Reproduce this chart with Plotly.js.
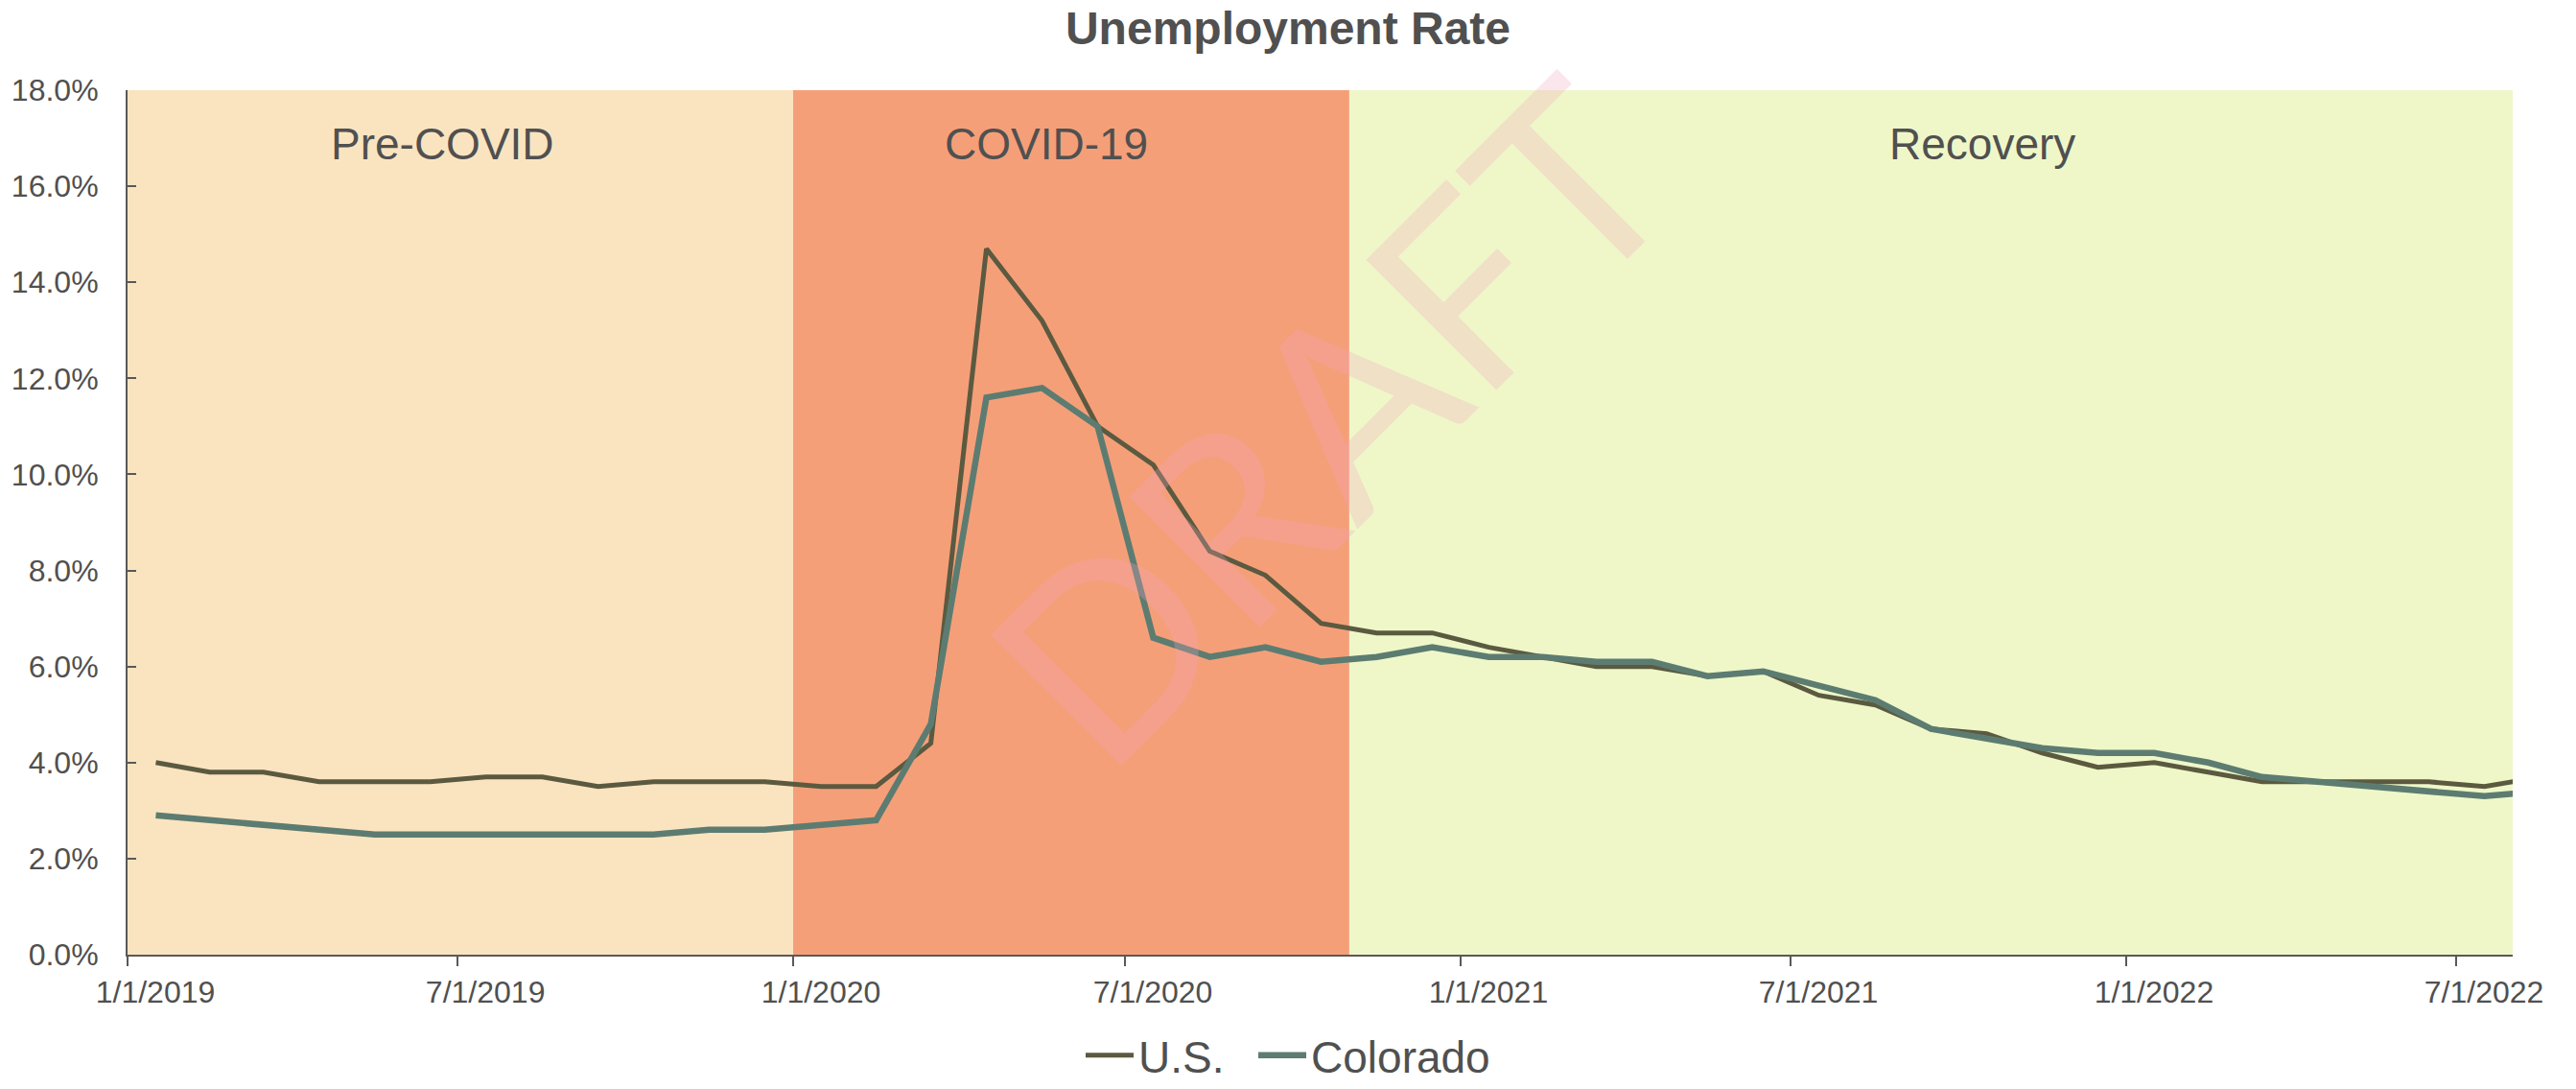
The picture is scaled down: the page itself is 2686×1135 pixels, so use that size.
<!DOCTYPE html>
<html>
<head>
<meta charset="utf-8">
<script src="https://cdn.plot.ly/plotly-3.0.1.min.js"></script>
<style>
  html, body { margin: 0; padding: 0; background: #fff; }
  #chart { width: 2686px; height: 1135px; }
</style>
</head>
<body>
<div id="chart"></div>
<script>
const months = [
    "2019-01-01", "2019-02-01", "2019-03-01", "2019-04-01", "2019-05-01", "2019-06-01",
    "2019-07-01", "2019-08-01", "2019-09-01", "2019-10-01", "2019-11-01", "2019-12-01",
    "2020-01-01", "2020-02-01", "2020-03-01", "2020-04-01", "2020-05-01", "2020-06-01",
    "2020-07-01", "2020-08-01", "2020-09-01", "2020-10-01", "2020-11-01", "2020-12-01",
    "2021-01-01", "2021-02-01", "2021-03-01", "2021-04-01", "2021-05-01", "2021-06-01",
    "2021-07-01", "2021-08-01", "2021-09-01", "2021-10-01", "2021-11-01", "2021-12-01",
    "2022-01-01", "2022-02-01", "2022-03-01", "2022-04-01", "2022-05-01", "2022-06-01",
    "2022-07-01", "2022-08-01"
];

const usRate = [
    4.0, 3.8, 3.8, 3.6, 3.6, 3.6, 3.7, 3.7, 3.5, 3.6, 3.6, 3.6,
    3.5, 3.5, 4.4, 14.7, 13.2, 11.0, 10.2, 8.4, 7.9, 6.9, 6.7, 6.7,
    6.4, 6.2, 6.0, 6.0, 5.8, 5.9, 5.4, 5.2, 4.7, 4.6, 4.2, 3.9,
    4.0, 3.8, 3.6, 3.6, 3.6, 3.6, 3.5, 3.7
];

const coloradoRate = [
    2.9, 2.8, 2.7, 2.6, 2.5, 2.5, 2.5, 2.5, 2.5, 2.5, 2.6, 2.6,
    2.7, 2.8, 4.8, 11.6, 11.8, 11.0, 6.6, 6.2, 6.4, 6.1, 6.2, 6.4,
    6.2, 6.2, 6.1, 6.1, 5.8, 5.9, 5.6, 5.3, 4.7, 4.5, 4.3, 4.2,
    4.2, 4.0, 3.7, 3.6, 3.5, 3.4, 3.3, 3.4
];

// shaded periods
const periodNames = ["Pre-COVID", "COVID-19", "Recovery"];
const periodStart = ["2019-01-01", "2020-01-01", "2020-11-01"];
const periodEnd = ["2020-01-01", "2020-11-01", "2022-08-01"];
const periodLabelAt = ["2019-06-23", "2020-05-19", "2021-10-14"];
const periodColors = ["#FAE4C0", "#F59F79", "#EFF7C9"];

const tickDates = ["2019-01-01", "2019-07-01", "2020-01-01", "2020-07-01",
    "2021-01-01", "2021-07-01", "2022-01-01", "2022-07-01"];
const tickLabels = ["1/1/2019", "7/1/2019", "1/1/2020", "7/1/2020",
    "1/1/2021", "7/1/2021", "1/1/2022", "7/1/2022"];

const textColor = "#505050";
const axisColor = "#595959";
const font = "Liberation Sans, Arial, sans-serif";

const traces = [
    {
        x: months, y: usRate, name: "U.S.&nbsp;&nbsp;",
        type: "scatter", mode: "lines",
        xperiod: "M1", xperiodalignment: "middle",
        line: {color: "#5B5A40", width: 5}
    },
    {
        x: months, y: coloradoRate, name: "Colorado",
        type: "scatter", mode: "lines",
        xperiod: "M1", xperiodalignment: "middle",
        line: {color: "#5D7C71", width: 6.5}
    }
];

const shapes = periodNames.map((n, i) => ({
    type: "rect", layer: "below",
    xref: "x", yref: "paper",
    x0: periodStart[i], x1: periodEnd[i], y0: 0, y1: 1,
    fillcolor: periodColors[i], line: {width: 0}
}));

const annotations = periodNames.map((n, i) => ({
    text: n, x: periodLabelAt[i], xref: "x",
    y: 0.938, yref: "paper", yanchor: "middle",
    showarrow: false,
    font: {family: font, size: 46, color: textColor}
}));

// watermark
annotations.push({
    text: "DRAFT", x: 0.503, y: 0.62, xref: "paper", yref: "paper",
    showarrow: false, textangle: -45,
    font: {family: "Lato, " + font, size: 268, color: "rgba(242,165,189,0.28)"}
});

const layout = {
    width: 2686, height: 1135,
    paper_bgcolor: "#fff", plot_bgcolor: "#fff",
    margin: {l: 133, r: 66, t: 94, b: 140},
    title: {
        text: "<b>Unemployment Rate</b>",
        x: 0.5, xref: "container", xanchor: "center",
        y: 0.974, yref: "container", yanchor: "middle",
        font: {family: font, size: 48, color: textColor}
    },
    xaxis: {
        type: "date",
        range: ["2019-01-01", "2022-08-01"],
        tickvals: tickDates, ticktext: tickLabels,
        ticklabelshift: 29,
        ticks: "outside", ticklen: 10, tickwidth: 2, tickcolor: axisColor,
        showline: true, linecolor: axisColor, linewidth: 2,
        showgrid: false, zeroline: false,
        tickfont: {family: font, size: 32, color: textColor}
    },
    yaxis: {
        range: [0, 18], dtick: 2,
        tickformat: ".1f", ticksuffix: "%",
        ticks: "inside", ticklen: 9, tickwidth: 2, tickcolor: axisColor,
        ticklabelstandoff: 22,
        showline: true, linecolor: axisColor, linewidth: 2,
        showgrid: false, zeroline: false,
        tickfont: {family: font, size: 32, color: textColor}
    },
    showlegend: true,
    legend: {
        orientation: "h",
        x: 0.5, xref: "container", xanchor: "center",
        y: 0.031, yref: "container", yanchor: "middle",
        font: {family: font, size: 46, color: textColor},
        itemwidth: 50
    },
    shapes: shapes,
    annotations: annotations
};

Plotly.newPlot("chart", traces, layout, {displayModeBar: false, responsive: false});
</script>
</body>
</html>
